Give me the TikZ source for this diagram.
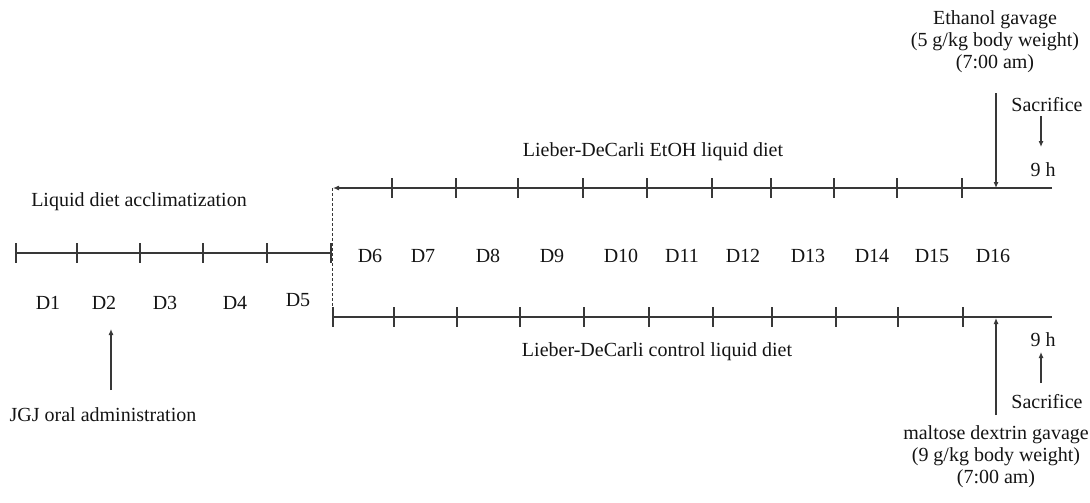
\documentclass[tikz,border=0pt]{standalone}
\usepackage{fontspec}
\setmainfont{Liberation Serif}
\usetikzlibrary{arrows.meta}
\begin{document}
\begin{tikzpicture}[x=1pt,y=-1pt,
  tl/.style={line width=1.1pt,draw=black!78},
  tick/.style={line width=1.1pt,draw=black!78},
  lab/.style={inner sep=0pt,text=black!92,font=\fontsize{20}{22}\selectfont},
  arr/.style={line width=1.1pt,draw=black!78,-{Latex[length=6pt,width=5pt]}}]
\useasboundingbox (0,0) rectangle (1090,503);
% left timeline
\coordinate (L0) at (16,253);
\coordinate (L1) at (331,253);
\draw[tl] (L0) -- (L1);
\foreach \x in {16,77,140,203,267,331}{\draw[tick] (\x,243) -- (\x,263);}
% dashed separator
\coordinate (dtop) at (332,188);
\coordinate (dbot) at (332,317);
\draw[line width=0.9pt,draw=black!78,dash pattern=on 3pt off 2pt] (dtop) -- (dbot);
% top timeline
\coordinate (T0) at (333,188);
\coordinate (T1) at (1052,188);
\draw[arr] (T1) -- (T0);
\foreach \x in {392,456,518,583,647,712,771,834,897,962}{\draw[tick] (\x,178) -- (\x,198);}
% bottom timeline
\coordinate (B0) at (333,317);
\coordinate (B1) at (1052,317);
\draw[tl] (B0) -- (B1);
\foreach \x in {333,394,457,520,584,649,713,772,836,898,963}{\draw[tick] (\x,307) -- (\x,327);}
% day labels
\foreach \n/\x/\y in {1/48/303,2/104/303,3/165/303,4/235/303,5/298/300}{
  \node[lab] (d\n) at (\x,\y) {D\n};}
\foreach \n/\x in {6/370,7/423,8/488,9/552,10/621,11/682,12/743,13/808,14/872,15/932,16/993}{
  \node[lab] (d\n) at (\x,256) {D\n};}
% phase labels
\node[lab] (accl) at (139,202) {Liquid diet acclimatization};
\node[lab] (etoh) at (653,152) {Lieber-DeCarli EtOH liquid diet};
\node[lab] (ctrl) at (657,352) {Lieber-DeCarli control liquid diet};
% JGJ
\node[lab] (jgj) at (103,415) {JGJ oral administration};
\coordinate (jgjA) at (111,390);
\coordinate (jgjB) at (111,329);
\draw[arr] (jgjA) -- (jgjB);
% ethanol gavage
\node[lab,align=center] (eth) at (995,42) {Ethanol gavage\\(5 g/kg body weight)\\(7:00 am)};
\coordinate (ethA) at (996,93);
\coordinate (ethB) at (996,188);
\draw[arr] (ethA) -- (ethB);
\node[lab] (sac1) at (1047,105) {Sacrifice};
\coordinate (s1A) at (1041,116);
\coordinate (s1B) at (1041,147);
\draw[arr] (s1A) -- (s1B);
\node[lab] (h1) at (1043,170) {9 h};
% maltose gavage
\node[lab,align=center] (mal) at (996,457) {maltose dextrin gavage\\(9 g/kg body weight)\\(7:00 am)};
\coordinate (malA) at (996,415);
\coordinate (malB) at (996,318);
\draw[arr] (malA) -- (malB);
\node[lab] (h2) at (1043,340) {9 h};
\coordinate (s2A) at (1041,383);
\coordinate (s2B) at (1041,352);
\draw[arr] (s2A) -- (s2B);
\node[lab] (sac2) at (1047,402) {Sacrifice};
\end{tikzpicture}
\end{document}
